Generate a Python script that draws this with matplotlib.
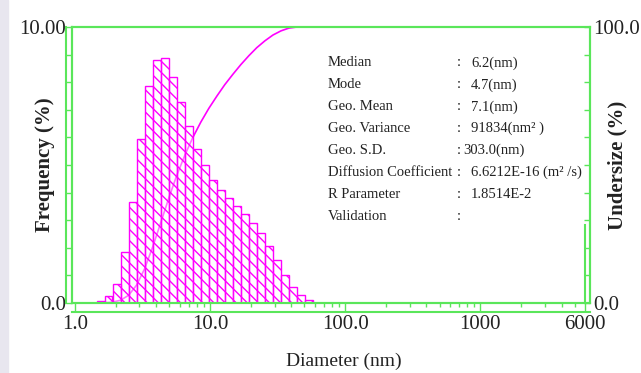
import numpy as np
import matplotlib.pyplot as plt
from matplotlib.lines import Line2D
from matplotlib.patches import Rectangle

# bin centre diameters (nm), log spaced bins
diameter = [1.55, 1.77, 2.03, 2.33, 2.67, 3.06, 3.51, 4.03, 4.62, 5.29, 6.07, 6.95,
            7.97, 9.14, 10.5, 12.0, 13.8, 15.8, 18.1, 20.7, 23.8, 27.3, 31.3, 35.8,
            41.1, 47.1, 54.0]
frequency = [0.06, 0.24, 0.69, 1.84, 3.66, 5.94, 7.88, 8.82, 8.87, 8.2, 7.3, 6.42,
             5.58, 5.0, 4.46, 4.1, 3.79, 3.52, 3.24, 2.91, 2.52, 2.06, 1.54, 1.0,
             0.57, 0.3, 0.12]
# cumulative undersize at the upper edge of each bin (curve stops at 100 %)
undersize = [0.1, 0.3, 1.0, 2.8, 6.5, 12.4, 20.3, 29.1, 38.0, 46.2, 53.5, 59.9,
             65.5, 70.5, 75.0, 79.1, 82.9, 86.4, 89.6, 92.5, 95.0, 97.1, 98.6,
             99.6, 100.0]

xtick_vals = [1, 10, 100, 1000, 6000]
xtick_labels = ['1.0', '10.0', '100.0', '1000', '6000']

stats_names = ['Median', 'Mode', 'Geo. Mean', 'Geo. Variance', 'Geo. S.D.',
               'Diffusion Coefficient', 'R Parameter', 'Validation']
stats_values = ['6.2(nm)', '4.7(nm)', '7.1(nm)', '91834(nm² )', '303.0(nm)',
                '6.6212E-16 (m² /s)', '1.8514E-2', '']

W, H = 641, 373
green = '#5ae65a'
magenta = '#ff00ff'
txt = '#222222'
plt.rcParams['font.family'] = ['Liberation Serif', 'DejaVu Serif']
plt.rcParams['hatch.color'] = magenta
plt.rcParams['hatch.linewidth'] = 1.0

fig = plt.figure(figsize=(W / 100, H / 100), dpi=100)
fig.patches.append(Rectangle((0, 0), 8 / W, 1, transform=fig.transFigure,
                             color='#e8e6ef', zorder=0))

L, R, T, B = 72, 590, 27, 303
ax = fig.add_axes([L / W, 1 - B / H, (R - L) / W, (B - T) / H])
ax2 = ax.twinx()
# histogram drawn over the undersize curve
ax.set_zorder(ax2.get_zorder() + 1)
ax.patch.set_visible(False)

hw = 10 ** 0.0296
d = np.array(diameter)
left = d / hw
ax.bar(left, frequency, width=d * hw - left, align='edge', facecolor=(1, 1, 1, 0.45),
       edgecolor=magenta, hatch='\\\\\\', linewidth=1.0)

ax.set_xscale('log')
ax.set_xlim(0.95, 6500)
ax.set_ylim(0, 10)
ax.set_xticks(xtick_vals)
ax.set_xticklabels(xtick_labels)
minor = [m * 10 ** e for e in range(0, 4) for m in range(2, 10) if m * 10 ** e < 6000]
ax.set_xticks(minor, minor=True)
ax.xaxis.set_minor_formatter(plt.NullFormatter())
ax.set_yticks(range(0, 11))
ax.set_yticklabels(['0.0'] + [''] * 9 + ['10.00'])
ax.tick_params(axis='x', which='major', direction='out', length=6.5, width=1,
               color=green, labelsize=15, labelcolor=txt, pad=2)
ax.tick_params(axis='x', which='minor', direction='out', length=3, width=1, color=green)
ax.tick_params(axis='y', direction='out', length=4.3, width=1, color=green,
               labelsize=15, labelcolor=txt, pad=0)
for s in ax.spines.values():
    s.set_color(green)
    s.set_linewidth(1.5)

ax2.set_ylim(0, 100)
ax2.set_yticks(range(0, 101, 10))
ax2.set_yticklabels(['0.0'] + [''] * 9 + ['100.0'])
ax2.tick_params(axis='y', direction='in', length=4, width=1, color=green,
                labelsize=15, labelcolor=txt, pad=2)
for s in ax2.spines.values():
    s.set_color(green)
    s.set_linewidth(1.5)

cx = [left[0]] + list((d * hw)[:len(undersize)])
cy = [0.0] + undersize
ax2.plot(cx, cy, color=magenta, linewidth=1.2)

# double frame lines of the original software
for (x0, y0, x1, y1) in [(66, 27, 66, 303), (72, 312, 590, 312), (585, 225, 585, 303)]:
    fig.add_artist(Line2D([x0 / W, x1 / W], [1 - y0 / H, 1 - y1 / H],
                          transform=fig.transFigure, color=green, linewidth=1.5))

fig.text(45 / W, 1 - 165 / H, 'Frequency (%)', rotation=90, ha='center', va='center',
         fontsize=15, fontweight='bold', color=txt)
fig.text(617 / W, 1 - 165 / H, 'Undersize (%)', rotation=90, ha='center', va='center',
         fontsize=15, fontweight='bold', color=txt)
fig.text(344 / W, 1 - 361 / H, 'Diameter (nm)', ha='center', va='center',
         fontsize=14, color=txt)

for i, (name, val) in enumerate(zip(stats_names, stats_values)):
    y = 1 - (63 + i * 21.9) / H
    fig.text(328 / W, y, name, ha='left', va='center', fontsize=10.5, color=txt)
    fig.text(457 / W, y, ':', ha='left', va='center', fontsize=10.5, color=txt)
    vx = 463 if val.startswith('303') else 471
    fig.text(vx / W, y, val, ha='left', va='center', fontsize=10.5, color=txt)

fig.savefig('out.png', dpi=100)
